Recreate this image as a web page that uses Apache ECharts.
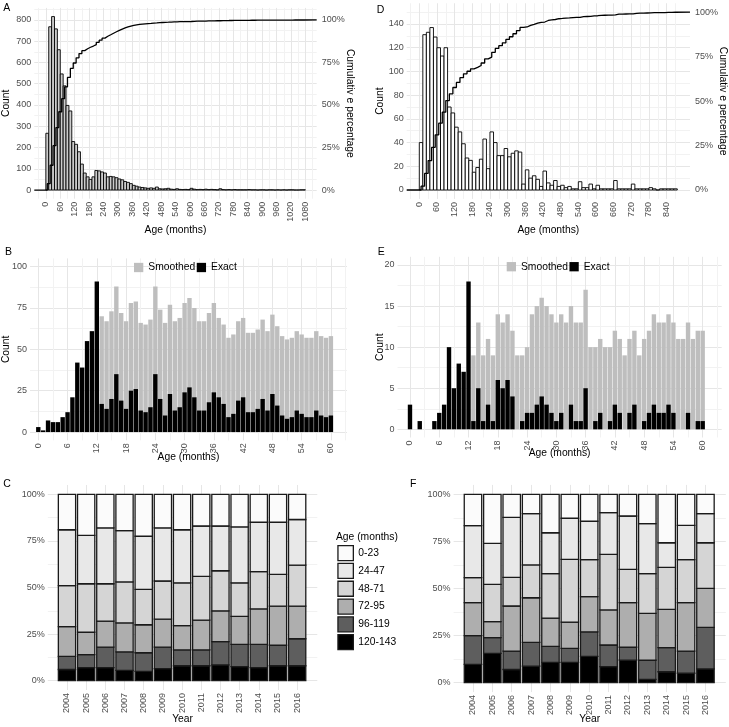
<!DOCTYPE html>
<html><head><meta charset="utf-8">
<script src="https://cdn.jsdelivr.net/npm/echarts@6/dist/echarts.min.js"></script>
<style>html,body{margin:0;padding:0;background:#fff}#c{width:729px;height:727px}</style>
</head><body><div id="c"></div>
<script>
// ---------------- DATA ----------------
const binMonths = 12;
// Panel A histogram counts, 12-month bins starting at 0
const countsA = [267,768,816,758,660,546,490,398,372,228,215,180,122,
  80,62,50,62,92,90,85,80,62,64,62,58,52,48,40,36,30,22,
  18,14,12,10,8,10,8,14,6,5,6,8,4,3,6,3,2,3,2,8,4,2,3,2,4,2,3,2,1,6,2,1,2,1,2,1,1,1,1,2,1,1,0,1,1,0,1,1,0,1,0,1,0,1,1,0,0,1,1];
// Panel D histogram counts
const countsD = [40,131,133,137,129,120,113,120,70,65,53,49,39,27,25,15,19,26,43,18,
  49,40,29,29,35,28,31,33,32,5,17,10,12,9,3,16,6,4,8,3,
  4,2,3,1,1,7,2,2,5,1,4,1,1,1,1,8,1,1,1,1,5,1,1,1,1,2,1,0,1,1,1,1,1];

const agesMonths = [0,1,2,3,4,5,6,7,8,9,10,11,12,13,14,15,16,17,18,19,20,21,22,23,24,25,26,27,28,29,30,
  31,32,33,34,35,36,37,38,39,40,41,42,43,44,45,46,47,48,49,50,51,52,53,54,55,56,57,58,59,60];
const smoothedB = [null,null,null,null,null,null,null,null,null,null,null,null,null,
  70,67,73,88,72,67,78,79,66,65,68,88,74,66,77,67,69,78,
  81,75,67,67,72,78,69,65,57,59,67,69,60,60,62,68,61,71,64,58,56,57,61,59,57,57,61,58,57,58];
const exactB = [3,1,7,6,6,9,12,21,42,39,55,61,91,
  17,14,20,35,19,14,25,26,13,12,15,35,20,10,23,13,15,24,
  27,21,13,13,18,24,21,17,9,11,19,21,12,12,14,20,13,23,16,10,8,9,13,11,9,9,13,10,9,10];
const smoothedE = [null,null,null,null,null,null,null,null,null,null,null,null,null,
  9,13,9,11,9,14,13,14,12,9,9,10,14,15,16,15,14,13,
  14,13,15,13,13,17,10,10,11,10,10,12,11,9,11,12,9,11,12,14,13,13,14,13,11,11,13,11,12,12];
const exactE = [3,0,1,0,0,1,2,3,10,5,8,7,18,
  1,5,1,3,1,6,5,6,4,0,1,2,2,3,4,3,2,1,
  2,0,3,1,1,5,0,1,2,0,1,3,2,0,2,3,0,1,2,3,2,2,3,2,0,0,2,0,1,1];

const years = [2004,2005,2006,2007,2008,2009,2010,2011,2012,2013,2014,2015,2016];
const ageGroups = ['0-23','24-47','48-71','72-95','96-119','120-143'];
// Panel C shares (%) per age group
const shareC_0_23    = [19,22,18,19.5,22.5,18,19,17,17,17.5,15,15,13.5];
const shareC_24_47   = [30,26,30,27.5,28.5,28.5,28.5,27,24,30,26.5,28,24.5];
const shareC_48_71   = [22,26,20,22,19,20.5,23,23.5,21.5,18,20,17,22];
const shareC_72_95   = [16,12,14,15.5,15,15,13,16,16.5,15,19,21,17.5];
const shareC_96_119  = [7,7,11,10,10,11.5,8.5,8.5,12.5,12,12.5,11,14.5];
const shareC_120_143 = [6,7,7,5.5,5,6.5,8,8,8.5,7.5,7,8,8];
// Panel F shares (%)
const shareF_0_23    = [16.6,26,12.2,10.3,20.4,12.7,14.3,9.7,11.5,15.6,25.7,16.5,10.3];
const shareF_24_47   = [27.6,21.8,31.9,27.2,21.7,21.8,20.4,22.2,28.3,26.5,13.1,18.2,15.4];
const shareF_48_71   = [13.3,19.8,15.2,17.4,23.6,33.3,19.6,29.5,17.7,21.1,22.3,22.8,24.2];
const shareF_72_95   = [17.5,8.5,23.9,23.7,15,14,18.7,18.6,23.7,24.9,20.3,25.7,20.7];
const shareF_96_119  = [15.3,8.3,9.8,12.6,8.5,7.4,13,11.5,6.8,10.1,12.8,11.8,22.1];
const shareF_120_143 = [9.7,15.6,7,8.8,10.8,10.8,14,8.5,12,1.8,5.8,5,7.3];

// tick labels
const ticksAgeA = [0,60,120,180,240,300,360,420,480,540,600,660,720,780,840,900,960,1020,1080];
const ticksAgeD = [0,60,120,180,240,300,360,420,480,540,600,660,720,780,840];
const ticksCountA = [0,100,200,300,400,500,600,700,800];
const ticksCountD = [0,20,40,60,80,100,120,140];
const ticksPct = [0,0.25,0.5,0.75,1];
const ticksMonth = [0,6,12,18,24,30,36,42,48,54,60];
const ticksCountB = [0,25,50,75,100];
const ticksCountE = [0,5,10,15,20];
const ticksShare = [0,25,50,75,100];

// ---------------- BUILD ----------------
const FONT = '"Liberation Sans", Arial, sans-serif';
const TICK = {fontFamily: FONT, fontSize: 9, color: '#4D4D4D'};
const TITLE = {fontFamily: FONT, fontSize: 10.3, color: '#000'};
const MAJOR = '#E6E6E6', MINOR = '#F2F2F2';

function gridVals(majors, min, max, withMinor) {
  if (!withMinor) return majors.slice();
  const h = (majors[1] - majors[0]) / 2;
  const out = [];
  for (let i = -2; i <= (majors.length - 1) * 2 + 2; i++) {
    const v = majors[0] + i * h;
    if (v < min - 1e-9 || v > max + 1e-9) continue;
    const isMajor = i % 2 === 0;
    if (isMajor && (i < 0 || i > (majors.length - 1) * 2)) continue;
    out.push(+v.toFixed(6));
  }
  return out;
}
function axis(o) {
  const gv = gridVals(o.labels, o.min, o.max, o.minor !== false);
  const colors = gv.map(v => o.labels.some(l => Math.abs(l - v) < 1e-9) ? MAJOR : MINOR);
  return {
    type: 'value', gridIndex: o.grid, min: o.min, max: o.max, position: o.position,
    axisLine: {show: false},
    axisTick: {show: false, customValues: gv},
    axisLabel: Object.assign({customValues: o.labels, formatter: o.fmt || (v => String(v)),
      rotate: o.rotate || 0, margin: o.margin == null ? 3 : o.margin}, TICK),
    splitLine: {show: !o.noSplit, lineStyle: {color: colors, width: 1}},
    minorSplitLine: {show: false},
    name: o.name || '', nameLocation: 'middle', nameGap: o.nameGap || 0, nameMoveOverlap: false,
    nameRotate: o.nameRotate || 0, nameTextStyle: TITLE
  };
}
const pct = v => Math.round(v * 100) + '%';
const pctS = v => Math.round(v) + '%';

function histSeries(counts, xi, yi, fill) {
  return {
    type: 'custom', xAxisIndex: xi, yAxisIndex: yi, silent: true,
    data: counts.map((c, k) => [k * binMonths, (k + 1) * binMonths, c]),
    renderItem: (p, api) => {
      const a = api.coord([api.value(0), api.value(2)]);
      const b = api.coord([api.value(1), 0]);
      return {type: 'rect', shape: {x: a[0], y: a[1], width: b[0] - a[0], height: b[1] - a[1]},
        style: {fill: fill, stroke: '#000', lineWidth: 0.9}};
    }
  };
}
function cumSeries(counts, xi, yi, xmin, xmax) {
  const total = counts.reduce((s, v) => s + v, 0);
  let run = 0;
  const pts = [[xmin, 0]];
  counts.forEach((c, k) => { run += c; pts.push([k * binMonths + binMonths / 2, run / total]); });
  pts.push([xmax, 1]);
  return {type: 'line', xAxisIndex: xi, yAxisIndex: yi, step: 'end', symbol: 'none', silent: true,
    data: pts, lineStyle: {color: '#000', width: 1.3}, z: 5};
}
function monthBars(name, vals, xi, yi, fill) {
  return {
    type: 'custom', name: name, xAxisIndex: xi, yAxisIndex: yi, silent: true,
    itemStyle: {color: fill},
    data: agesMonths.map((a, i) => [a, vals[i]]).filter(d => d[1] != null),
    renderItem: (p, api) => {
      const x = api.value(0), v = api.value(1);
      const a = api.coord([x - 0.45, v]);
      const b = api.coord([x + 0.45, 0]);
      return {type: 'rect', shape: {x: a[0], y: a[1], width: b[0] - a[0], height: b[1] - a[1]},
        style: {fill: fill}};
    }
  };
}
const groupFill = {'0-23': '#FBFBFB', '24-47': '#E8E8E8', '48-71': '#D5D5D5',
  '72-95': '#AEAEAE', '96-119': '#5E5E5E', '120-143': '#000000'};
function stackSeries(sharesBottomUp, namesBottomUp, xi, yi) {
  const base = years.map(() => 0);
  return sharesBottomUp.map((arr, gi) => {
    const data = years.map((y, i) => { const lo = base[i]; base[i] += arr[i]; return [y, lo, base[i]]; });
    const fill = groupFill[namesBottomUp[gi]];
    return {
      type: 'custom', name: namesBottomUp[gi], xAxisIndex: xi, yAxisIndex: yi, silent: true,
      itemStyle: {color: fill, borderColor: '#1A1A1A', borderWidth: 1.3},
      data: data,
      renderItem: (p, api) => {
        const x = api.value(0);
        const a = api.coord([x - 0.45, api.value(2)]);
        const b = api.coord([x + 0.45, api.value(1)]);
        return {type: 'rect', shape: {x: a[0], y: a[1], width: b[0] - a[0], height: b[1] - a[1]},
          style: {fill: fill, stroke: '#1A1A1A', lineWidth: 1.3}};
      }
    };
  });
}

const namesBottomUp = ['120-143','96-119','72-95','48-71','24-47','0-23'];
const seriesC = stackSeries([shareC_120_143, shareC_96_119, shareC_72_95, shareC_48_71, shareC_24_47, shareC_0_23], namesBottomUp, 4, 6);
const seriesF = stackSeries([shareF_120_143, shareF_96_119, shareF_72_95, shareF_48_71, shareF_24_47, shareF_0_23], namesBottomUp, 5, 7);

// axis ranges
const A = {xmin: -48, xmax: 1127, ymin: -40.8, ymax: 856.8, k: 800};
const D = {xmin: -42.8, xmax: 919.2, ymin: -7.5, ymax: 157.5, k: 150};

const grids = [
  {left: 34.3, top: 7.9, width: 282.4, height: 190.8},     // A
  {left: 406.7, top: 3.25, width: 283.3, height: 195.65},  // D
  {left: 30, top: 258.4, width: 317, height: 181.9},       // B
  {left: 397.5, top: 256.8, width: 324.2, height: 180.7},  // E
  {left: 47.8, top: 485, width: 269.5, height: 205},       // C
  {left: 453.6, top: 484.9, width: 272.2, height: 207.2}   // F
].map(g => Object.assign({outerBoundsMode: 'none', containLabel: false}, g));

const xAxes = [
  axis({grid: 0, min: A.xmin, max: A.xmax, labels: ticksAgeA, rotate: 90, name: 'Age (months)', nameGap: 26}),
  axis({grid: 1, min: D.xmin, max: D.xmax, labels: ticksAgeD, rotate: 90, name: 'Age (months)', nameGap: 26}),
  axis({grid: 2, min: -1.7, max: 63.3, labels: ticksMonth, rotate: 90, name: 'Age (months)', nameGap: 12}),
  axis({grid: 3, min: -2.56, max: 63.9, labels: ticksMonth, rotate: 90, name: 'Age (months)', nameGap: 11}),
  axis({grid: 4, min: 2003, max: 2017.05, labels: years, minor: false, rotate: 90, name: 'Year', nameGap: 24}),
  axis({grid: 5, min: 2003, max: 2017.05, labels: years, minor: false, rotate: 90, name: 'Year', nameGap: 22})
];
const yAxes = [
  axis({grid: 0, min: A.ymin, max: A.ymax, labels: ticksCountA, name: 'Count', nameGap: 23, nameRotate: 90}),
  axis({grid: 0, min: A.ymin / A.k, max: A.ymax / A.k, labels: ticksPct, position: 'right', noSplit: true, minor: false,
        fmt: pct, margin: 5, name: 'Cumulativ e percentage', nameGap: 28, nameRotate: -90}),
  axis({grid: 1, min: D.ymin, max: D.ymax, labels: ticksCountD, name: 'Count', nameGap: 22, nameRotate: 90}),
  axis({grid: 1, min: D.ymin / D.k, max: D.ymax / D.k, labels: ticksPct, position: 'right', noSplit: true, minor: false,
        fmt: pct, margin: 5, name: 'Cumulativ e percentage', nameGap: 28, nameRotate: -90}),
  axis({grid: 2, min: -5, max: 105, labels: ticksCountB, name: 'Count', nameGap: 19, nameRotate: 90}),
  axis({grid: 3, min: -1, max: 21, labels: ticksCountE, name: 'Count', nameGap: 12, nameRotate: 90}),
  axis({grid: 4, min: -5, max: 105, labels: ticksShare, fmt: pctS}),
  axis({grid: 5, min: -5, max: 105, labels: ticksShare, fmt: pctS})
];

const series = [
  histSeries(countsA, 0, 0, '#CCCCCC'),
  cumSeries(countsA, 0, 1, A.xmin, A.xmax),
  histSeries(countsD, 1, 2, '#FFFFFF'),
  cumSeries(countsD, 1, 3, D.xmin, D.xmax),
  monthBars('Smoothed', smoothedB, 2, 4, '#BEBEBE'),
  monthBars('Exact', exactB, 2, 4, '#000000'),
  monthBars('Smoothed', smoothedE, 3, 5, '#BEBEBE'),
  monthBars('Exact', exactE, 3, 5, '#000000')
].concat(seriesC, seriesF);

const tag = (t, x, y) => ({text: t, left: x, top: y, padding: 0,
  textStyle: {fontFamily: FONT, fontSize: 10.5, fontWeight: 'normal', color: '#000'}});

const legendMonths = (x, y) => ({
  left: x, top: y, padding: 0, icon: 'rect', itemWidth: 9.3, itemHeight: 9.3, itemGap: 1.5,
  selectedMode: false, textStyle: {fontFamily: FONT, fontSize: 10.3, color: '#000'},
  data: [{name: 'Smoothed', itemStyle: {color: '#BEBEBE'}}, {name: 'Exact', itemStyle: {color: '#000000'}}]
});

const option = {
  animation: false,
  backgroundColor: '#fff',
  textStyle: {fontFamily: FONT},
  title: [tag('A', 3.3, 2.5), tag('D', 376.7, 5), tag('B', 5, 246.5), tag('E', 377.7, 246.5),
          tag('C', 3.3, 478.5), tag('F', 410, 478.5),
          {text: 'Age (months)', left: 336, top: 532.5, padding: 0,
           textStyle: {fontFamily: FONT, fontSize: 10.3, fontWeight: 'normal', color: '#000'}}],
  legend: [legendMonths(134, 262.5), legendMonths(506.7, 261.7),
    {left: 337.3, top: 545, orient: 'vertical', padding: 0, icon: 'rect', itemWidth: 15.4, itemHeight: 15,
     itemGap: 1.5, selectedMode: false, textStyle: {fontFamily: FONT, fontSize: 10.3, color: '#000'},
     data: ageGroups.map(g => ({name: g, itemStyle: {color: groupFill[g], borderColor: '#1A1A1A', borderWidth: 1.3}}))}],
  grid: grids, xAxis: xAxes, yAxis: yAxes, series: series
};
const chart = echarts.init(document.getElementById('c'), null, {renderer: 'canvas'});
chart.setOption(option);
</script></body></html>
